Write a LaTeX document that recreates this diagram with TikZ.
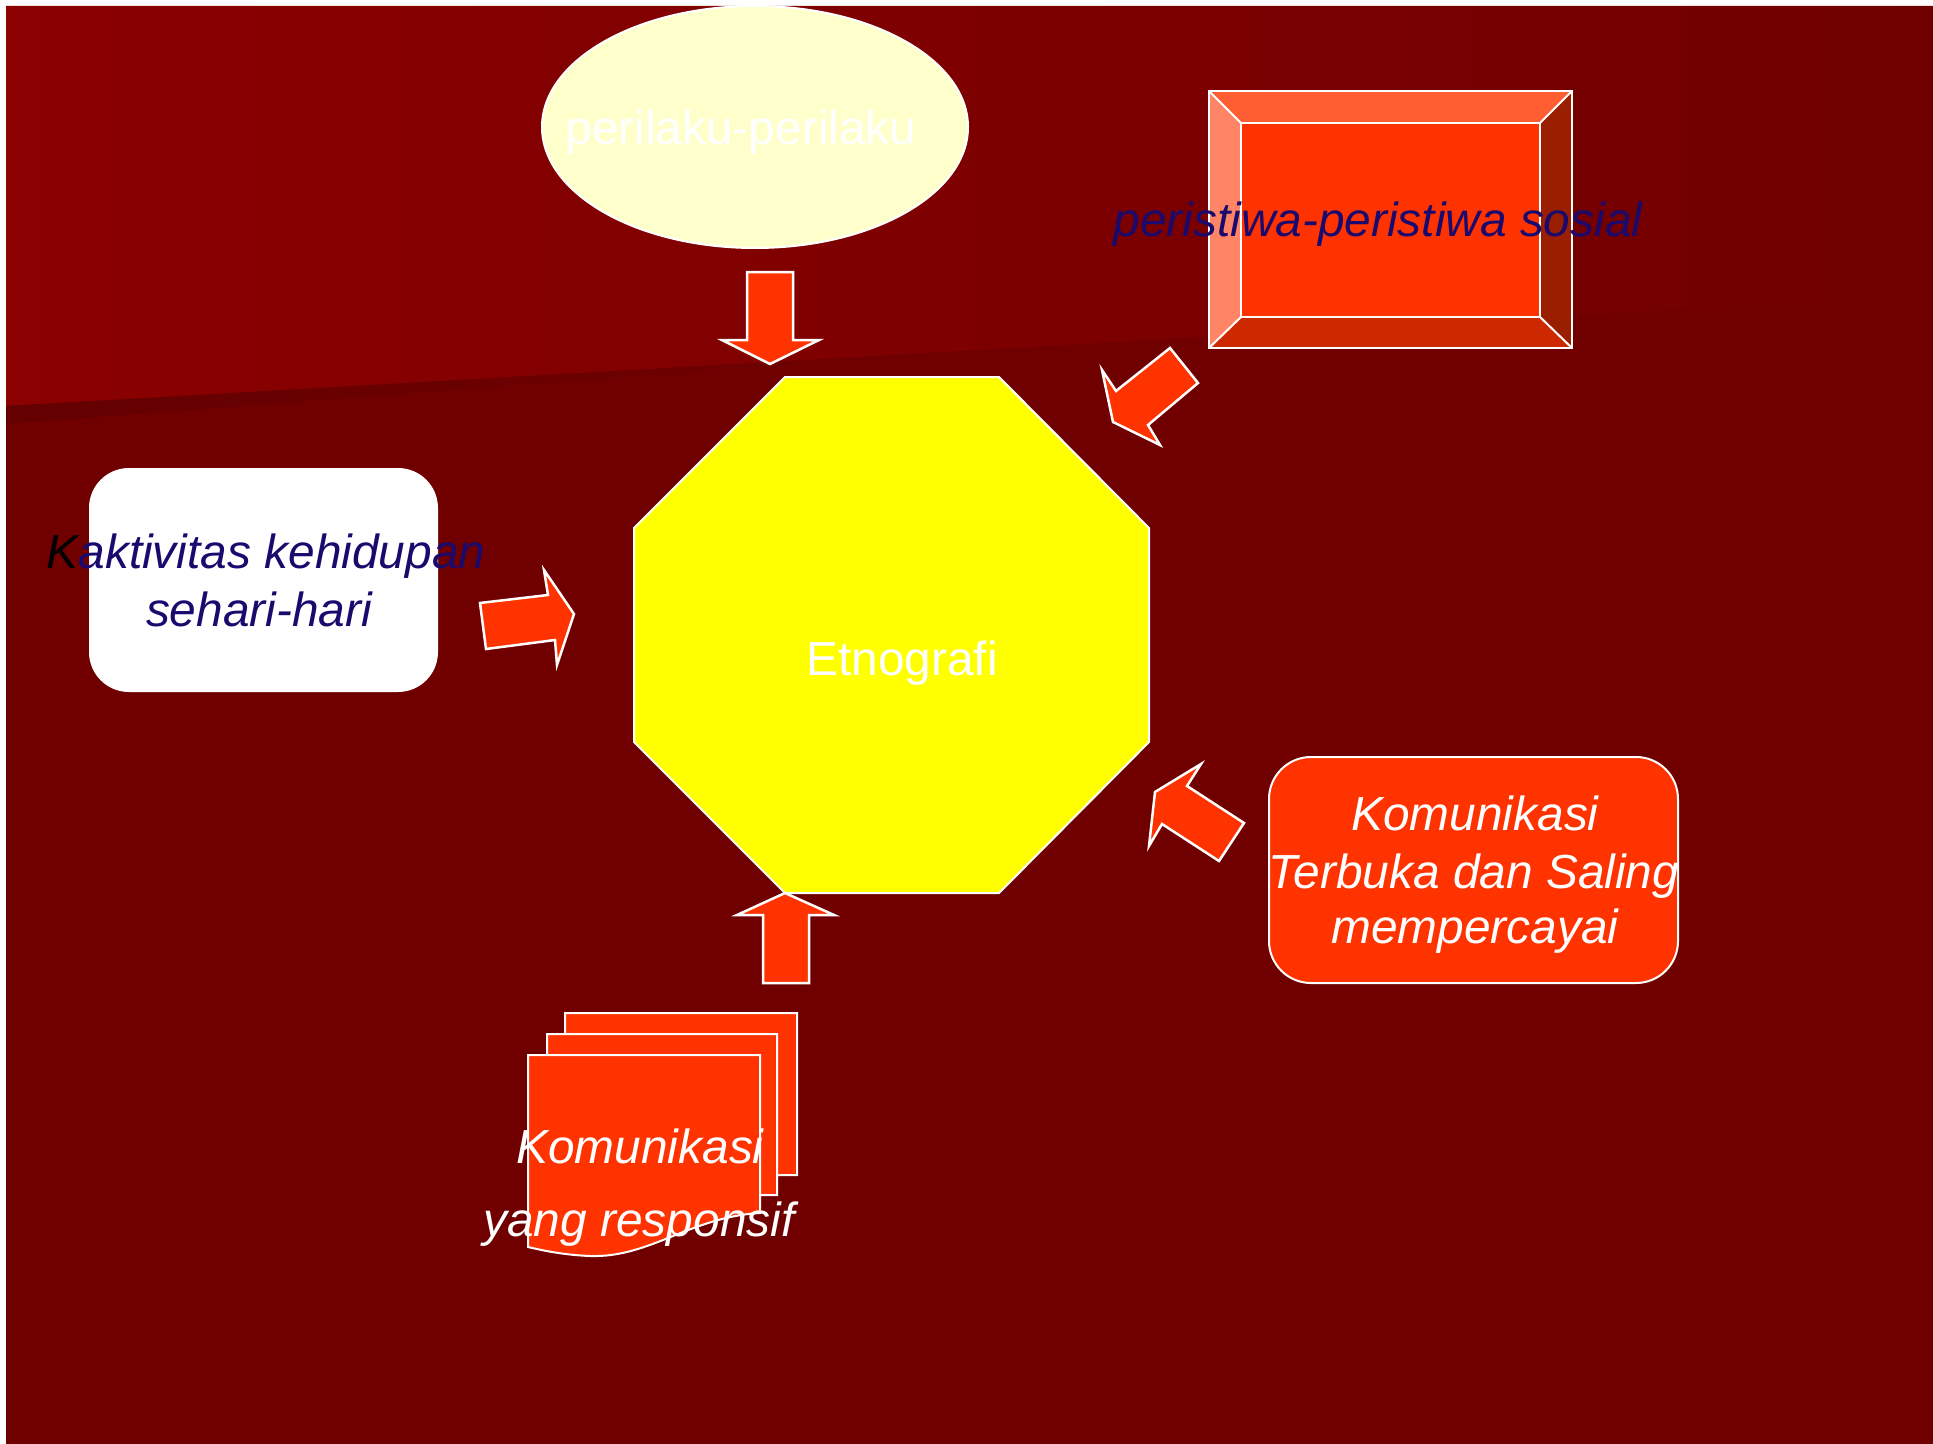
\documentclass[tikz,border=0pt]{standalone}
\usepackage{fontspec}
\setmainfont{Liberation Sans}
\definecolor{bgdark}{RGB}{112,0,0}
\definecolor{bglight}{RGB}{139,0,0}
\definecolor{bgshadow}{RGB}{100,0,0}
\definecolor{orangered}{RGB}{255,51,0}
\definecolor{navytext}{RGB}{26,10,110}
\definecolor{cream}{RGB}{255,255,204}
\definecolor{octyellow}{RGB}{255,255,0}
\definecolor{bevtop}{RGB}{255,94,51}
\definecolor{bevleft}{RGB}{255,133,102}
\definecolor{bevright}{RGB}{153,31,0}
\definecolor{bevbot}{RGB}{204,41,0}
\tikzset{
  blockarrow/.style={fill=orangered, draw=white, line width=2.5bp, line join=miter},
  edgeline/.style={draw=white, line width=2bp},
  lbl/.style={inner sep=0pt, anchor=base, font=\fontsize{48}{58}\selectfont},
  ilbl/.style={lbl, font=\fontsize{48}{58}\selectfont\itshape},
}
\begin{document}
\begin{tikzpicture}[x=1bp,y=-1bp]
\useasboundingbox (0,0) rectangle (1933,1444);
% background
\fill[white] (0,0) rectangle (1933,1444);
\fill[bgdark] (6,6) rectangle (1933,1444);
\shade[left color=bglight, right color=bgdark] (6,6) -- (1933,6) -- (1933,295) -- (6,406) -- cycle;
\shade[left color=bgshadow, right color=bgdark] (6,406) -- (1000,349) -- (6,424) -- cycle;

% ellipse
\draw[edgeline, fill=cream] (755,127) ellipse [x radius=213, y radius=121];

% bevel rectangle
\fill[bevtop] (1209,91) -- (1572,91) -- (1540,123) -- (1241,123) -- cycle;
\fill[bevleft] (1209,91) -- (1241,123) -- (1241,317) -- (1209,348) -- cycle;
\fill[bevright] (1572,91) -- (1572,348) -- (1540,317) -- (1540,123) -- cycle;
\fill[bevbot] (1209,348) -- (1241,317) -- (1540,317) -- (1572,348) -- cycle;
\fill[orangered] (1241,123) rectangle (1540,317);
\draw[edgeline] (1209,91) rectangle (1572,348);
\draw[edgeline] (1241,123) rectangle (1540,317);
\draw[edgeline] (1209,91) -- (1241,123) (1572,91) -- (1540,123)
  (1209,348) -- (1241,317) (1572,348) -- (1540,317);

% octagon
\draw[edgeline, fill=octyellow] (785,377) -- (999,377) -- (1149,528) -- (1149,742)
  -- (999,893) -- (785,893) -- (634,742) -- (634,528) -- cycle;

% block arrows
\draw[blockarrow] (747,272) -- (793,272) -- (793,340) -- (819,340) -- (770,364)
  -- (722,340) -- (747,340) -- cycle;
\draw[blockarrow] (1170,348) -- (1198,383) -- (1148,425) -- (1160,445) -- (1113,422)
  -- (1102,370) -- (1116,391) -- cycle;
\draw[blockarrow] (480,603) -- (548,595) -- (544,570) -- (574,614) -- (557,665)
  -- (555,640) -- (486,649) -- cycle;
\draw[blockarrow] (1155,792) -- (1201,764) -- (1187,786) -- (1244,823) -- (1219,861)
  -- (1162,824) -- (1149,846) -- cycle;
\draw[blockarrow] (785,893) -- (834,915) -- (809,915) -- (809,983) -- (763,983)
  -- (763,915) -- (737,915) -- cycle;

% left white rounded box
\fill[white, rounded corners=40bp] (89,468) rectangle (438,692);

% right rounded box
\draw[edgeline, fill=orangered, rounded corners=42bp] (1269,757) rectangle (1678,983);

% multidocument
\draw[edgeline, fill=orangered] (565,1013) -- (797,1013) -- (797,1175) -- (565,1178) -- cycle;
\draw[edgeline, fill=orangered] (547,1034) -- (777,1034) -- (777,1195) -- (547,1198) -- cycle;
\draw[edgeline, fill=orangered] (528,1055) -- (760,1055) -- (760,1213)
  .. controls (690,1217) and (650,1258) .. (590,1256)
  .. controls (565,1255) and (545,1251) .. (528,1247) -- cycle;

% texts
\node[lbl, text=white] (perilaku) at (741,145) {perilaku-perilaku};
\node[ilbl, text=navytext] (peristiwa) at (1378,237) {peristiwa-peristiwa sosial};
\node[ilbl, text=navytext] (akt1) at (266,568) {{\color{black}K}aktivitas kehidupan};
\node[ilbl, text=navytext] (akt2) at (259,626) {sehari-hari};
\node[lbl, text=white] (etno) at (902,675) {Etnografi};
\node[ilbl, text=white] (kt1) at (1475,830) {Komunikasi};
\node[ilbl, text=white] (kt2) at (1474,888) {Terbuka dan Saling};
\node[ilbl, text=white] (kt3) at (1475,943) {mempercayai};
\node[ilbl, text=white] (kr1) at (640,1163) {Komunikasi};
\node[ilbl, text=white] (kr2) at (639,1236) {yang responsif};
\end{tikzpicture}
\end{document}
